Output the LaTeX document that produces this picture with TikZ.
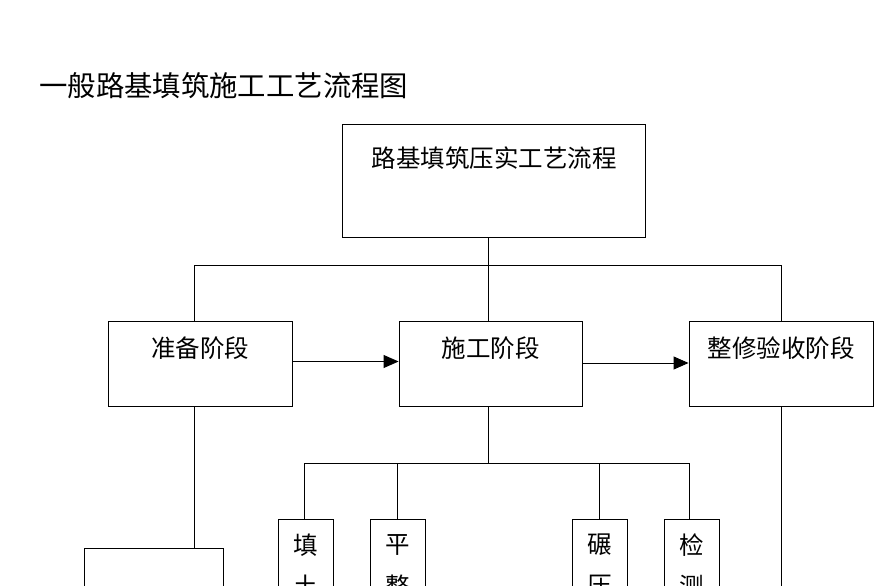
\documentclass[tikz,border=0pt]{standalone}
\usepackage{fontspec}
\newfontfamily\cjk{Noto Sans CJK SC}
\usetikzlibrary{arrows.meta}
\tikzset{
  box/.style={draw=black, line width=0.9pt, rectangle, inner sep=0pt},
  txt/.style={font=\cjk\fontsize{24.5pt}{26pt}\selectfont, inner sep=0pt, anchor=center},
  ttl/.style={font=\cjk\fontsize{28.4pt}{30pt}\selectfont, inner sep=0pt, anchor=west},
  conn/.style={draw=black, line width=0.9pt},
  arr/.style={conn, -{Triangle[length=15pt,width=13pt]}}
}
\begin{document}
\begin{tikzpicture}[x=1pt,y=-1pt]
\useasboundingbox (0,0) rectangle (884,586);
\clip (0,0) rectangle (884,586);
\fill[white] (0,0) rectangle (884,586);

\node[ttl] (title) at (39,86) {一般路基填筑施工工艺流程图};

% top box
\node[box, minimum width=303pt, minimum height=113pt] (top) at (493.5,180.5) {};
\node[txt] (toptxt) at (494,158) {路基填筑压实工艺流程};

% three phase boxes
\node[box, minimum width=184pt, minimum height=85pt] (prep) at (200,363.5) {};
\node[txt] (preptxt) at (200,348) {准备阶段};
\node[box, minimum width=183pt, minimum height=85pt] (con) at (490.5,363.5) {};
\node[txt] (contxt) at (490.5,348) {施工阶段};
\node[box, minimum width=184pt, minimum height=85pt] (fin) at (781,363.5) {};
\node[txt] (fintxt) at (781,348) {整修验收阶段};

% bottom-left box (cut off)
\node[box, minimum width=139pt, minimum height=120pt] (left) at (153.5,608) {};

% small vertical boxes (cut off)
\node[box, minimum width=55pt, minimum height=120pt] (fill) at (305.5,579) {};
\node[txt] (fill1) at (305.5,545) {填};
\node[txt] (fill2) at (305.5,586) {土};
\node[box, minimum width=55pt, minimum height=120pt] (level) at (397.5,579) {};
\node[txt] (level1) at (397.5,545) {平};
\node[txt] (level2) at (397.5,586) {整};
\node[box, minimum width=55pt, minimum height=120pt] (roll) at (599.5,579) {};
\node[txt] (roll1) at (599.5,545) {碾};
\node[txt] (roll2) at (599.5,586) {压};
\node[box, minimum width=55pt, minimum height=120pt] (test) at (691.5,579) {};
\node[txt] (test1) at (691.5,545) {检};
\node[txt] (test2) at (691.5,586) {测};

% junction coordinates
\coordinate (j1) at (488,265);
\coordinate (jl) at (194,265);
\coordinate (jr) at (781,265);
\coordinate (j2) at (488,463);
\coordinate (d1) at (304,463);
\coordinate (d2) at (397,463);
\coordinate (d3) at (599,463);
\coordinate (d4) at (689,463);
\coordinate (lx) at (194,548);
\coordinate (rb) at (781,600);
\coordinate (ay1) at (0,361.5);
\coordinate (ay2) at (0,363);

% connectors top
\draw[conn] (top.south -| j1) -- (j1);
\draw[conn] (prep.north -| jl) -- (jl) -- (jr) -- (fin.north -| jr);
\draw[conn] (j1) -- (con.north -| j1);

% arrows
\draw[arr] (prep.east |- ay1) -- (con.west |- ay1);
\draw[arr] (con.east |- ay2) -- (fin.west |- ay2);

% prep down to left box
\draw[conn] (prep.south -| lx) -- (lx);

% construction down to small boxes
\draw[conn] (con.south -| j2) -- (j2);
\draw[conn] (fill.north -| d1) -- (d1) -- (d4) -- (test.north -| d4);
\draw[conn] (d2) -- (level.north -| d2);
\draw[conn] (d3) -- (roll.north -| d3);

% finishing down
\draw[conn] (fin.south -| rb) -- (rb);
\end{tikzpicture}
\end{document}
